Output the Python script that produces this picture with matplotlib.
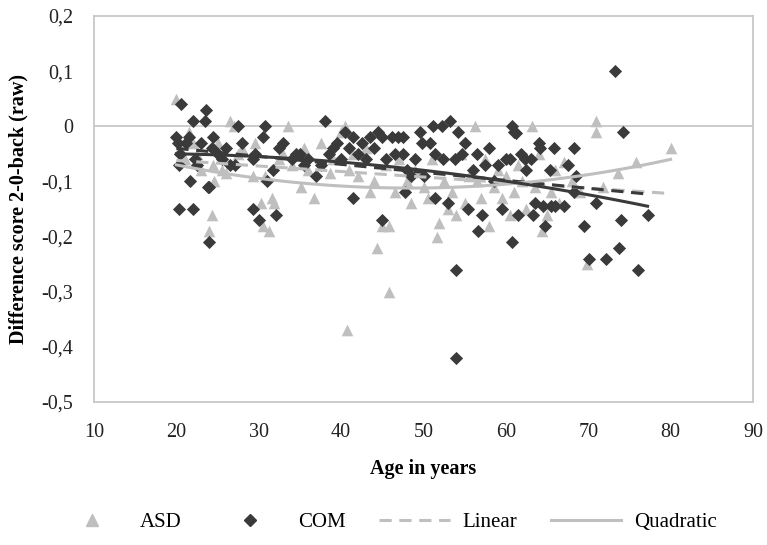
import numpy as np
import matplotlib
matplotlib.use('Agg')
import matplotlib.pyplot as plt
from matplotlib.lines import Line2D

plt.rcParams['font.family'] = ['Liberation Serif', 'DejaVu Serif']

# ASD group (grey triangles)
asd_age = [20.0, 20.5, 21.0, 21.5, 22.0, 22.5, 23.0, 24.0, 24.3, 24.4, 24.6, 25.0, 25.5, 26.0,
           26.5, 27.0, 27.5, 28.0, 29.3, 29.5, 30.3, 30.5, 30.8, 31.2, 31.6, 31.8, 32.5, 33.0,
           33.5, 34.0, 35.1, 35.5, 36.0, 36.7, 37.5, 38.6, 39.0, 40.0, 40.5, 40.7, 41.0, 41.5,
           42.0, 43.0, 43.5, 44.0, 44.3, 45.0, 45.5, 45.8, 45.8, 46.5, 47.0, 48.0, 48.5, 49.0,
           50.0, 50.5, 51.0, 51.6, 51.9, 52.5, 53.0, 53.5, 54.0, 54.5, 55.0, 55.5, 56.2, 56.5,
           57.0, 57.5, 58.0, 58.5, 59.0, 59.5, 60.0, 60.5, 61.0, 61.5, 62.0, 62.5, 63.2, 63.5,
           64.0, 64.4, 65.0, 65.5, 66.0, 66.5, 67.0, 68.0, 69.0, 69.8, 71.0, 71.0, 71.8, 73.6,
           75.8, 80.0]
asd_diff = [0.05, -0.04, -0.06, -0.01, -0.03, -0.05, -0.08, -0.19, -0.16, -0.07, -0.10, -0.03,
            -0.08, -0.084, 0.01, 0.00, -0.05, -0.04, -0.09, -0.03, -0.14, -0.18, -0.09, -0.19,
            -0.13, -0.14, -0.06, -0.05, 0.00, -0.07, -0.11, -0.04, -0.08, -0.13, -0.03, -0.084,
            -0.06, -0.01, 0.00, -0.37, -0.08, -0.05, -0.09, -0.04, -0.12, -0.10, -0.22, -0.18,
            -0.07, -0.18, -0.30, -0.12, -0.06, -0.10, -0.14, -0.08, -0.11, -0.13, -0.06, -0.20,
            -0.175, -0.10, -0.15, -0.12, -0.16, -0.05, -0.14, -0.09, 0.00, -0.10, -0.13, -0.06,
            -0.18, -0.11, -0.08, -0.13, -0.09, -0.16, -0.12, -0.07, -0.10, -0.15, 0.00, -0.11,
            -0.05, -0.19, -0.16, -0.12, -0.08, -0.14, -0.065, -0.10, -0.12, -0.25, 0.01, -0.01,
            -0.11, -0.085, -0.065, -0.04]

# COM group (dark diamonds)
com_age = [20.0, 20.2, 20.5, 20.3, 20.6, 20.3, 21.2, 21.5, 21.7, 22.0, 22.0, 22.3, 22.5, 23.0,
           23.5, 23.6, 23.8, 24.0, 23.9, 24.3, 24.5, 25.0, 25.5, 26.0, 26.5, 27.1, 27.5, 28.0,
           29.3, 29.3, 29.5, 30.0, 30.5, 30.8, 31.0, 31.7, 32.1, 32.5, 33.0, 34.0, 34.5, 35.0,
           35.5, 36.0, 37.0, 37.5, 38.0, 38.5, 39.0, 39.5, 40.0, 40.5, 41.0, 41.4, 41.4, 42.0,
           42.5, 43.0, 43.5, 44.0, 44.5, 45.0, 45.0, 45.5, 46.2, 46.5, 46.9, 47.5, 47.5, 47.7,
           48.0, 48.5, 49.0, 49.6, 49.8, 50.0, 50.8, 51.1, 51.4, 51.4, 52.2, 52.4, 53.0, 53.2,
           53.8, 54.0, 54.0, 54.2, 54.7, 55.0, 55.4, 56.0, 56.5, 56.6, 57.1, 57.5, 58.0, 58.5,
           59.0, 59.5, 60.0, 60.5, 60.7, 60.8, 61.0, 61.2, 61.5, 61.8, 62.3, 62.5, 63.0, 63.3,
           63.5, 64.0, 64.2, 64.5, 64.8, 65.3, 65.8, 65.5, 66.0, 67.0, 67.5, 68.3, 68.5, 68.3,
           69.5, 70.1, 71.0, 72.1, 73.2, 73.7, 74.0, 74.2, 76.1, 77.2]
com_diff = [-0.02, -0.03, -0.05, -0.07, 0.04, -0.15, -0.03, -0.02, -0.10, -0.15, 0.01, -0.06,
            -0.07, -0.03, 0.01, 0.03, -0.11, -0.11, -0.21, -0.04, -0.02, -0.05, -0.06, -0.04,
            -0.07, -0.07, 0.00, -0.03, -0.15, -0.06, -0.05, -0.17, -0.02, 0.00, -0.10, -0.08,
            -0.16, -0.04, -0.03, -0.06, -0.05, -0.05, -0.07, -0.06, -0.09, -0.07, 0.01, -0.05,
            -0.04, -0.03, -0.06, -0.01, -0.04, -0.02, -0.13, -0.05, -0.03, -0.06, -0.02, -0.04,
            -0.01, -0.02, -0.17, -0.06, -0.02, -0.05, -0.02, -0.02, -0.05, -0.12, -0.08, -0.09,
            -0.06, -0.01, -0.03, -0.09, -0.03, 0.00, -0.05, -0.13, 0.00, -0.06, -0.14, 0.01,
            -0.06, -0.26, -0.42, -0.01, -0.05, -0.03, -0.15, -0.08, -0.05, -0.19, -0.16, -0.07,
            -0.04, -0.10, -0.07, -0.15, -0.06, -0.06, 0.00, -0.21, -0.01, -0.012, -0.16, -0.05,
            -0.06, -0.08, -0.06, -0.16, -0.14, -0.03, -0.04, -0.145, -0.18, -0.08, -0.04, -0.145,
            -0.145, -0.145, -0.07, -0.04, -0.09, -0.12, -0.18, -0.24, -0.14, -0.24, 0.10, -0.22,
            -0.17, -0.01, -0.26, -0.16]

# trendline coefficients (highest power first)
asd_linear = [-0.0010, -0.042]
com_linear = [-0.00145, -0.011]
asd_quad = [5.21e-5, -0.005043, 0.01005]
com_quad = [-2.45e-5, 0.000721, -0.0546]

light = '#bfbfbf'
dark = '#3a3a3a'

fig = plt.figure(figsize=(7.67, 5.45), dpi=100)
ax = fig.add_axes([94 / 767, 1 - 402 / 545, (753 - 94) / 767, (402 - 16) / 545])

ax.scatter(asd_age, asd_diff, marker='^', s=70, color=light, linewidths=0, zorder=3)
ax.scatter(com_age, com_diff, marker='D', s=45, color=dark, linewidths=0, zorder=4)

xa = np.linspace(min(asd_age), max(asd_age), 100)
xc = np.linspace(min(com_age), max(com_age), 100)
ax.plot(xa, np.polyval(asd_linear, xa), color=light, lw=2.2, dashes=(4, 2.5), zorder=5)
ax.plot(xc, np.polyval(com_linear, xc), color=dark, lw=2.2, dashes=(4, 2.5), zorder=5)
ax.plot(xa, np.polyval(asd_quad, xa), color=light, lw=2.2, zorder=5)
ax.plot(xc, np.polyval(com_quad, xc), color=dark, lw=2.2, zorder=5)

ax.axhline(0, color='#c8c8c8', lw=1.3, zorder=1)
ax.set_xlim(10, 90)
ax.set_ylim(-0.5, 0.2)
ax.set_xticks(np.arange(10, 91, 10))
ax.set_yticks(np.arange(-0.5, 0.21, 0.1))
ax.set_yticklabels([f'{v:.1f}'.replace('.', ',').replace('-0,0', '0').replace('0,0', '0')
                    for v in np.arange(-0.5, 0.21, 0.1)])
ax.tick_params(length=0, labelsize=14.5, colors='#222222')
ax.tick_params(axis='x', pad=15)
ax.tick_params(axis='y', pad=15)
for sp in ax.spines.values():
    sp.set_color('#c8c8c8')
    sp.set_linewidth(1.3)

ax.set_xlabel('Age in years', fontsize=14.5, fontweight='bold')
ax.set_ylabel('Difference score 2-0-back (raw)', fontsize=14.5, fontweight='bold')
ax.xaxis.set_label_coords(0.5, -0.148)
ax.yaxis.set_label_coords(-0.10, 0.5)

handles = [
    Line2D([], [], marker='^', color=light, ls='none', markersize=8),
    Line2D([], [], marker='D', color=dark, ls='none', markersize=6),
    Line2D([], [], color=light, lw=2.2, dashes=(4, 2.5)),
    Line2D([], [], color=light, lw=2.2),
]
fig.legend(handles, ['ASD', 'COM', 'Linear', 'Quadratic'], loc='center',
           bbox_to_anchor=(0.504, 0.042), ncol=4, frameon=False, fontsize=15,
           handlelength=3.4, handletextpad=0.6, columnspacing=1.6)

fig.savefig('out.png', dpi=100)
